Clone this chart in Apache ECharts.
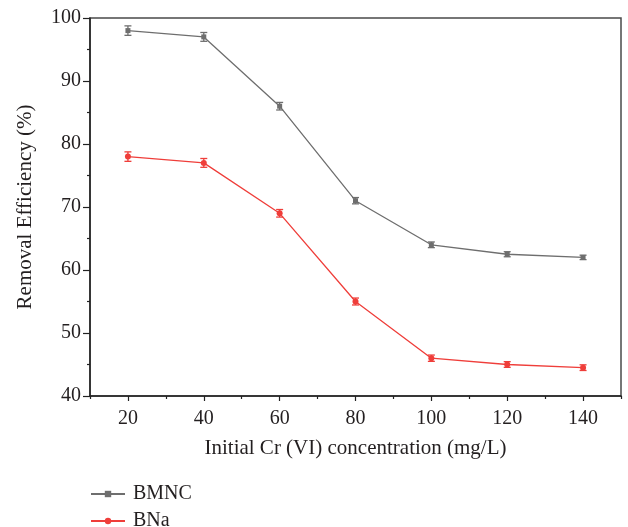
<!DOCTYPE html>
<html>
<head>
<meta charset="utf-8">
<script src="https://cdn.jsdelivr.net/npm/echarts@6/dist/echarts.min.js"></script>
<style>
  html, body { margin: 0; padding: 0; background: #fff; }
  #chart { width: 628px; height: 527px; }
</style>
</head>
<body>
<div id="chart"></div>
<script>
// Initial Cr(VI) concentration (mg/L)
const concentrations = [20, 40, 60, 80, 100, 120, 140];
// Removal efficiency (%) and standard deviations
const bmncValues = [98, 97, 86, 71, 64, 62.5, 62];
const bmncErrors = [0.75, 0.7, 0.6, 0.5, 0.45, 0.4, 0.35];
const bnaValues = [78, 77, 69, 55, 46, 45, 44.5];
const bnaErrors = [0.75, 0.7, 0.6, 0.55, 0.5, 0.45, 0.45];
// Axis ticks
const xMajorTicks = [20, 40, 60, 80, 100, 120, 140];
const xMinorTicks = [10, 30, 50, 70, 90, 110, 130, 150];

const FONT = "'Liberation Serif', 'DejaVu Serif', serif";
const TEXT = '#231f20';
const GRAY = '#6e6e6e';
const RED = '#ef3e3a';

function errorBarSeries(values, errors, color) {
  return {
    type: 'custom',
    silent: true,
    z: 3,
    data: concentrations.map((c, i) => [c, values[i], errors[i]]),
    renderItem: function (params, api) {
      const x = api.value(0), y = api.value(1), e = api.value(2);
      const top = api.coord([x, y + e]);
      const bot = api.coord([x, y - e]);
      const hw = 3.5;
      const style = { stroke: color, lineWidth: 1.3 };
      return {
        type: 'group',
        children: [
          { type: 'line', shape: { x1: top[0], y1: top[1], x2: bot[0], y2: bot[1] }, style },
          { type: 'line', shape: { x1: top[0] - hw, y1: top[1], x2: top[0] + hw, y2: top[1] }, style },
          { type: 'line', shape: { x1: bot[0] - hw, y1: bot[1], x2: bot[0] + hw, y2: bot[1] }, style }
        ]
      };
    }
  };
}

function legendRow(name, top) {
  return {
    orient: 'vertical',
    left: 90, top: top, padding: 0,
    itemWidth: 34, itemHeight: 8,
    textStyle: { fontFamily: FONT, fontSize: 20, color: TEXT, padding: [0, 0, 0, 3] },
    data: [name]
  };
}

const chart = echarts.init(document.getElementById('chart'), null, { renderer: 'canvas' });
chart.setOption({
  animation: false,
  backgroundColor: '#fff',
  grid: {
    left: 90, right: 7, top: 18, bottom: 131,
    show: true, borderColor: '#4a4a4a', borderWidth: 1.5, backgroundColor: 'transparent'
  },
  legend: [legendRow('BMNC', 484), legendRow('BNa', 511)],
  xAxis: [{
    type: 'value', min: 10, max: 150,
    name: 'Initial Cr (VI) concentration (mg/L)',
    nameLocation: 'middle', nameGap: 42,
    nameTextStyle: { fontFamily: FONT, fontSize: 21, color: TEXT },
    axisLine: { lineStyle: { color: '#222', width: 1.5 } },
    axisTick: { customValues: xMajorTicks, length: 5, inside: false, lineStyle: { color: '#222', width: 1.2 } },
    axisLabel: { customValues: xMajorTicks, fontFamily: FONT, fontSize: 20, color: TEXT, margin: 13 },
    splitLine: { show: false }
  }, {
    type: 'value', min: 10, max: 150, position: 'bottom',
    axisLine: { show: false },
    axisTick: { customValues: xMinorTicks, length: 3, lineStyle: { color: '#222', width: 1.2 } },
    axisLabel: { show: false },
    splitLine: { show: false }
  }],
  yAxis: {
    type: 'value', min: 40, max: 100, interval: 10,
    name: 'Removal Efficiency (%)',
    nameLocation: 'middle', nameGap: 54,
    nameTextStyle: { fontFamily: FONT, fontSize: 21, color: TEXT },
    axisLine: { show: true, lineStyle: { color: '#222', width: 1.5 } },
    axisTick: { show: true, length: 7, lineStyle: { color: '#222', width: 1.2 } },
    minorTick: { show: true, splitNumber: 2, length: 3, lineStyle: { color: '#222', width: 1.2 } },
    axisLabel: { fontFamily: FONT, fontSize: 20, color: TEXT, margin: 9 },
    splitLine: { show: false }
  },
  series: [
    {
      name: 'BMNC', type: 'line',
      data: concentrations.map((c, i) => [c, bmncValues[i]]),
      symbol: 'rect', symbolSize: 5,
      lineStyle: { color: GRAY, width: 1.3 },
      itemStyle: { color: GRAY },
      z: 4
    },
    errorBarSeries(bmncValues, bmncErrors, GRAY),
    {
      name: 'BNa', type: 'line',
      data: concentrations.map((c, i) => [c, bnaValues[i]]),
      symbol: 'circle', symbolSize: 6,
      lineStyle: { color: RED, width: 1.3 },
      itemStyle: { color: RED },
      z: 4
    },
    errorBarSeries(bnaValues, bnaErrors, RED)
  ]
});
</script>
</body>
</html>
